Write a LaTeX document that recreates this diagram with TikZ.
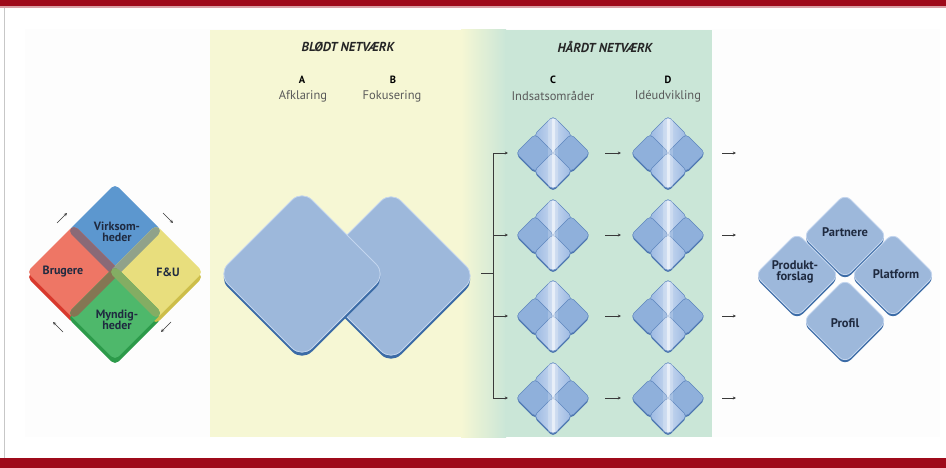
\documentclass[tikz,border=0pt]{standalone}
\usepackage{fontspec}
\setmainfont{PT Sans}
\usetikzlibrary{arrows.meta}

\definecolor{barred}{HTML}{9E0A1A}
\definecolor{barpink}{HTML}{D9A0A5}
\definecolor{softyellow}{HTML}{F6F7D4}
\definecolor{softgreen}{HTML}{CAE6D7}
\definecolor{bigfill}{HTML}{9DB8DB}
\definecolor{bigedge}{HTML}{3B6BA6}
\definecolor{bigline}{HTML}{C3D5EE}
\definecolor{smfill}{HTML}{8FB0DB}
\definecolor{smline}{HTML}{5E86BE}
\definecolor{smshadow}{HTML}{4C75AE}
\definecolor{smlight}{HTML}{9AB8E2}
\definecolor{qblue}{HTML}{5C97CF}
\definecolor{qred}{HTML}{EE7665}
\definecolor{qyellow}{HTML}{E8DE7D}
\definecolor{qgreen}{HTML}{4EB86B}
\definecolor{qreddark}{HTML}{D8392D}
\definecolor{qgreendark}{HTML}{2C9A4A}
\definecolor{qyellowdark}{HTML}{CDBE4A}
\definecolor{txtdark}{HTML}{1F2A40}
\definecolor{txtgray}{HTML}{5A5A5A}
\definecolor{arrowgray}{HTML}{3A3A3A}

% rounded diamond: options, centre x, centre y, half diagonal, corner radius
\newcommand\rdiamond[5]{%
  \path[rounded corners=#5,#1] (#2,#3-#4) -- (#2+#4,#3) -- (#2,#3+#4) -- (#2-#4,#3) -- cycle;}

% cluster of four small diamonds with a light vertical glow
\newcommand\smallcluster[2]{%
  \rdiamond{fill=smshadow}{#1}{#2-18+1.6}{19}{4}
  \rdiamond{shade,left color=smlight,right color=smlight,middle color=smlight!55!white,draw=smline,line width=0.5}{#1}{#2-18}{19}{4}
  \rdiamond{fill=smshadow}{#1-18}{#2+1.6}{19}{4}
  \rdiamond{fill=smshadow}{#1+18}{#2+1.6}{19}{4}
  \rdiamond{fill=smfill,draw=smline,line width=0.5}{#1-18}{#2}{19}{4}
  \rdiamond{fill=smfill,draw=smline,line width=0.5}{#1+18}{#2}{19}{4}
  \rdiamond{fill=smshadow}{#1}{#2+18+1.6}{19}{4}
  \rdiamond{shade,left color=smlight,right color=smlight,middle color=smlight!55!white,draw=smline,line width=0.5}{#1}{#2+18}{19}{4}
  \fill[white,opacity=0.2] (#1-5,#2-34) rectangle (#1+5,#2+34);
  \fill[white,opacity=0.5] (#1-1.5,#2-34) rectangle (#1+1.5,#2+34);}

\tikzset{
  flow/.style={draw=arrowgray,line width=0.8,-{Stealth[length=3.2pt,width=3pt]}},
  quadlabel/.style={font=\bfseries\fontsize{12}{11}\selectfont,text=txtdark,align=center},
  boxlabel/.style={font=\bfseries\fontsize{12.5}{11.5}\selectfont,text=txtdark,align=center},
  stageletter/.style={font=\bfseries\fontsize{10.5}{10}\selectfont,text=black},
  stagename/.style={font=\fontsize{12.5}{12}\selectfont,text=txtgray},
  netheader/.style={font=\bfseries\itshape\fontsize{13}{13}\selectfont,text=black!85}
}

\begin{document}
\begin{tikzpicture}[x=1pt,y=-1pt]
\useasboundingbox (0,0) rectangle (946,468);
\fill[white] (0,0) rectangle (946,468);

% frame bars
\fill[barred] (0,0) rectangle (946,6.5);
\fill[barpink] (0,6.5) rectangle (946,8);
\fill[barred] (0,458) rectangle (946,468);
\draw[black!22,line width=1.2] (4.5,8) -- (4.5,458);
\fill[black!0.8] (25,29) rectangle (940,437);

% network backgrounds
\fill[softyellow] (210,30) rectangle (462,437);
\shade[left color=softyellow,right color=softgreen] (461,30) rectangle (506,437);
\fill[softgreen] (505,30) rectangle (712,437);

% headers
\node[netheader] (hsoft) at (348,47) {BLØDT NETVÆRK};
\node[netheader] (hhard) at (605,47) {HÅRDT NETVÆRK};
\node[stageletter] (la) at (302,80) {A};
\node[stagename] (na) at (303,96) {Afklaring};
\node[stageletter] (lb) at (393,80) {B};
\node[stagename] (nb) at (392,96) {Fokusering};
\node[stageletter] (lc) at (553,80) {C};
\node[stagename] (nc) at (553,96) {Indsatsområder};
\node[stageletter] (ld) at (668,80) {D};
\node[stagename] (nd) at (668,96) {Idéudvikling};

% left quadrant diamond: shadows
\rdiamond{fill=qreddark}{74}{277}{47}{5}
\rdiamond{fill=qgreendark}{115}{318}{47}{5}
\rdiamond{fill=qyellowdark}{156}{277}{47}{5}
% quadrant faces
\rdiamond{fill=qblue}{115}{231}{47}{5}
\rdiamond{fill=qred}{74}{272}{47}{5}
\rdiamond{fill=qyellow}{156}{272}{47}{5}
\rdiamond{fill=qgreen}{115}{313}{47}{5}
% overlap bands
\begin{scope}
  \rdiamond{clip}{115}{231}{47}{5}
  \rdiamond{fill=qblue!45!qred!80!black}{74}{272}{47}{5}
  \rdiamond{fill=qblue!45!qyellow!85!black}{156}{272}{47}{5}
\end{scope}
\begin{scope}
  \rdiamond{clip}{115}{313}{47}{5}
  \rdiamond{fill=qgreen!45!qred!80!black}{74}{272}{47}{5}
  \rdiamond{fill=qgreen!50!qyellow!85!black}{156}{272}{47}{5}
\end{scope}
\node[quadlabel] (virk) at (117,232) {Virksom-\\heder};
\node[quadlabel] (brug) at (63,272) {Brugere};
\node[quadlabel] (fu) at (168,272) {F\&U};
\node[quadlabel] (mynd) at (117,320) {Myndig-\\heder};

% cycle arrows round the quadrants
\coordinate (ulA) at (57,223); \coordinate (ulB) at (67,213);
\coordinate (urA) at (163,213); \coordinate (urB) at (173,223);
\coordinate (lrA) at (171,322); \coordinate (lrB) at (161,332);
\coordinate (llA) at (63,332); \coordinate (llB) at (53,322);
\draw[flow,line width=0.7] (ulA) -- (ulB);
\draw[flow,line width=0.7] (urA) -- (urB);
\draw[flow,line width=0.7] (lrA) -- (lrB);
\draw[flow,line width=0.7] (llA) -- (llB);

% soft network: two large diamonds
\rdiamond{fill=bigedge}{391}{279.5}{85}{14}
\rdiamond{fill=bigfill,draw=bigline,line width=0.8}{391}{276}{85}{14}
\rdiamond{fill=bigedge}{302}{277.5}{84}{14}
\rdiamond{fill=bigfill,draw=bigline,line width=0.8}{302}{274}{84}{14}

% hard network: clusters
\foreach \r/\yy in {1/153,2/235,3/316,4/398}{
  \smallcluster{553}{\yy}
  \smallcluster{668}{\yy}
  \coordinate (c\r) at (553,\yy);
  \coordinate (d\r) at (668,\yy);
  \coordinate (in\r) at (508,\yy);
}

% branching connector from the soft network
\coordinate (tick) at (481,273);
\coordinate (split) at (493,273);
\draw[draw=arrowgray,line width=0.8] (tick) -- (split);
\foreach \r in {1,2,3,4}{
  \draw[flow] (split) |- (in\r);
  \draw[flow] ([xshift=52pt]c\r) -- ([xshift=-47pt]d\r);
  \draw[flow] ([xshift=54pt]d\r) -- ([xshift=68pt]d\r);
}

% result diamonds
\foreach \nm/\xx/\yy in {pa/845/236,pr/797/275,pl/893/275,pf/845/321}{
  \rdiamond{fill=bigedge}{\xx}{\yy+2.5}{42}{8}
  \rdiamond{fill=bigfill,draw=bigline,line width=0.8}{\xx}{\yy}{42}{8}
}
\node[boxlabel] (partnere) at (845,232) {Partnere};
\node[boxlabel] (produkt) at (795,272) {Produkt-\\forslag};
\node[boxlabel] (platform) at (896,274) {Platform};
\node[boxlabel] (profil) at (845,323) {Profil};
\end{tikzpicture}
\end{document}
